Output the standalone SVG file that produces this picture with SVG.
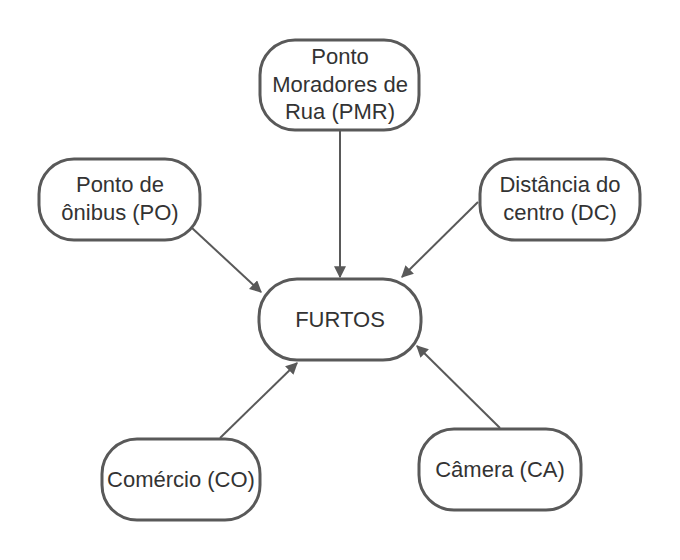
<svg xmlns="http://www.w3.org/2000/svg" width="680" height="560" viewBox="0 0 680 560">
<defs>
<marker id="ah" viewBox="0 0 10 10" refX="9" refY="5" markerWidth="12" markerHeight="12" markerUnits="userSpaceOnUse" orient="auto">
<path d="M0,0 L10,5 L0,10 z" fill="#595959"/>
</marker>
<style>
.n{fill:#fff;stroke:#595959;stroke-width:3}
.t{font-family:"Liberation Sans",Arial,sans-serif;font-size:22px;fill:#333;text-anchor:middle}
.c{stroke:#595959;stroke-width:2;fill:none;marker-end:url(#ah)}
</style>
</defs>
<rect width="680" height="560" fill="#fff"/>
<g id="connectors">
<line class="c" x1="340" y1="130" x2="340" y2="277"/>
<line class="c" x1="192" y1="228" x2="261" y2="292"/>
<line class="c" x1="478" y1="202" x2="402" y2="277"/>
<line class="c" x1="220" y1="438" x2="297" y2="363"/>
<line class="c" x1="500" y1="428" x2="417" y2="346"/>
</g>
<g id="pmr"><rect class="n" x="260" y="40" width="159" height="90" rx="35"/>
<text class="t" x="340" y="64">Ponto</text><text class="t" x="340" y="92">Moradores de</text><text class="t" x="340" y="119">Rua (PMR)</text></g>
<g id="po"><rect class="n" x="39" y="159" width="161" height="81" rx="35"/>
<text class="t" x="120" y="192">Ponto de</text><text class="t" x="120" y="220">ônibus (PO)</text></g>
<g id="dc"><rect class="n" x="480" y="159" width="160" height="81" rx="35"/>
<text class="t" x="560" y="192">Distância do</text><text class="t" x="560" y="220">centro (DC)</text></g>
<g id="furtos"><rect class="n" x="259" y="279" width="162" height="81" rx="38"/>
<text class="t" x="340" y="327">FURTOS</text></g>
<g id="co"><rect class="n" x="102" y="439" width="158" height="81" rx="35"/>
<text class="t" x="181" y="487">Comércio (CO)</text></g>
<g id="ca"><rect class="n" x="419" y="429" width="162" height="81" rx="35"/>
<text class="t" x="500" y="477">Câmera (CA)</text></g>
</svg>
